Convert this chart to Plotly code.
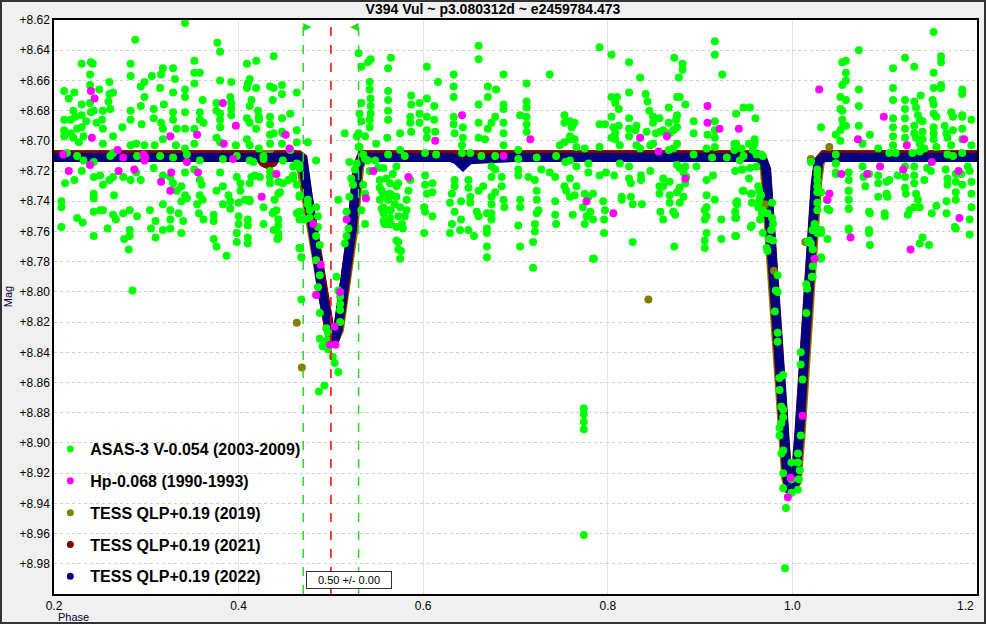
import plotly.graph_objects as go

TITLE = "V394 Vul ~ p3.080312d ~ e2459784.473"
SERIES_NAMES = ["ASAS-3 V-0.054 (2003-2009)", "Hp-0.068 (1990-1993)",
                "TESS QLP+0.19 (2019)", "TESS QLP+0.19 (2021)", "TESS QLP+0.19 (2022)"]
SERIES_COLORS = ["#00ff00", "#ff00ff", "#808000", "#800000", "#000080"]
MARK_LINES = [0.47, 0.50, 0.53]
MARK_LABEL = "0.50 +/- 0.00"
X_TICKS = [0.2, 0.4, 0.6, 0.8, 1.0, 1.2]
X_TICK_TEXT = ["0.2", "0.4", "0.6", "0.8", "1.0", ""]
X_LAST_LABEL = "1.2"
Y_TICKS = [8.62, 8.64, 8.66, 8.68, 8.70, 8.72, 8.74, 8.76, 8.78, 8.80, 8.82, 8.84, 8.86,
           8.88, 8.90, 8.92, 8.94, 8.96, 8.98]
Y_TICK_TEXT = ["+8.62", "+8.64", "+8.66", "+8.68", "+8.70", "+8.72", "+8.74", "+8.76", "+8.78",
               "+8.80", "+8.82", "+8.84", "+8.86", "+8.88", "+8.90", "+8.92", "+8.94", "+8.96",
               "+8.98"]

# ---- ASAS-3 V (green) : (phase, mag)
ASAS_A = [
(0.342,8.622),(0.288,8.633),(0.377,8.635),(0.380,8.641),(0.230,8.649),(0.240,8.648),(0.242,8.649),(0.283,8.649),(0.352,8.647),(0.438,8.644),(0.419,8.647),(0.409,8.649),(0.239,8.656),(0.283,8.657),(0.318,8.652),(0.329,8.652),(0.352,8.655),(0.358,8.655),(0.306,8.657),(0.316,8.656),(0.331,8.659),(0.260,8.661),(0.298,8.661),(0.294,8.664),(0.352,8.662),(0.380,8.660),(0.392,8.661),(0.412,8.659),(0.410,8.662),
(0.211,8.667),(0.222,8.668),(0.216,8.672),(0.249,8.666),(0.260,8.669),(0.264,8.668),(0.315,8.665),(0.329,8.668),(0.342,8.666),(0.342,8.671),(0.361,8.673),(0.376,8.675),(0.391,8.671),(0.392,8.675),(0.409,8.665),(0.419,8.665),(0.434,8.664),(0.438,8.665),(0.447,8.663),(0.447,8.669),(0.463,8.668),(0.414,8.673),(0.437,8.673),(0.239,8.663),(0.239,8.675),(0.230,8.676),(0.221,8.680),(0.218,8.686),(0.223,8.684),(0.211,8.686),(0.230,8.683),(0.240,8.681),(0.243,8.680),(0.253,8.680),(0.259,8.674),(0.261,8.679),(0.283,8.680),(0.294,8.677),(0.298,8.671),(0.308,8.679),(0.319,8.676),(0.329,8.681),(0.342,8.681),(0.358,8.681),(0.376,8.680),(0.380,8.682),(0.392,8.679),(0.412,8.677),(0.421,8.680),(0.422,8.684),(0.447,8.685),(0.456,8.682),(0.434,8.684),
(0.211,8.693),(0.218,8.695),(0.225,8.692),(0.230,8.691),(0.235,8.687),(0.246,8.688),(0.252,8.686),(0.253,8.692),(0.264,8.697),(0.274,8.691),(0.283,8.686),(0.295,8.689),(0.308,8.685),(0.316,8.688),(0.318,8.692),(0.329,8.686),(0.333,8.692),(0.342,8.692),(0.352,8.692),(0.358,8.686),(0.362,8.688),(0.380,8.686),(0.380,8.691),(0.392,8.683),(0.409,8.685),(0.412,8.688),(0.419,8.692),(0.422,8.686),(0.434,8.689),(0.438,8.695),(0.447,8.694),(0.463,8.693),
(0.211,8.697),(0.221,8.698),(0.227,8.701),(0.232,8.697),(0.253,8.702),(0.283,8.703),(0.289,8.702),(0.298,8.703),(0.309,8.703),(0.318,8.699),(0.332,8.703),(0.342,8.705),(0.352,8.702),(0.376,8.698),(0.380,8.701),(0.397,8.703),(0.409,8.699),(0.412,8.703),(0.422,8.705),(0.434,8.702),(0.447,8.702),(0.463,8.701),(0.456,8.706),
(0.214,8.708),(0.225,8.710),(0.232,8.713),(0.243,8.714),(0.261,8.710),(0.264,8.708),(0.290,8.710),(0.315,8.710),(0.329,8.711),(0.344,8.709),(0.358,8.713),(0.383,8.712),(0.398,8.710),(0.412,8.713),(0.427,8.712),(0.448,8.713),(0.463,8.715),(0.466,8.718),
(0.212,8.728),(0.222,8.726),(0.230,8.720),(0.243,8.724),(0.250,8.723),(0.253,8.729),(0.260,8.726),(0.264,8.724),(0.243,8.735),(0.243,8.738),(0.265,8.736),(0.275,8.724),(0.283,8.726),(0.289,8.721),(0.294,8.726),(0.308,8.718),(0.318,8.723),(0.326,8.724),(0.329,8.728),(0.333,8.733),(0.338,8.730),(0.342,8.736),(0.344,8.738),(0.342,8.721),(0.352,8.719),(0.358,8.726),(0.360,8.729),(0.358,8.736),(0.361,8.739),(0.376,8.733),(0.380,8.721),(0.383,8.730),(0.389,8.736),(0.391,8.740),(0.398,8.724),(0.402,8.728),(0.402,8.733),(0.407,8.739),(0.412,8.740),(0.418,8.723),(0.423,8.724),(0.434,8.720),(0.434,8.728),(0.443,8.727),(0.443,8.735),(0.459,8.724),(0.463,8.729),(0.466,8.736),
(0.208,8.740),(0.208,8.744),(0.225,8.751),(0.231,8.754),(0.243,8.747),(0.250,8.746),(0.253,8.746),(0.258,8.758),(0.264,8.749),(0.267,8.752),(0.275,8.748),(0.282,8.746),(0.290,8.750),(0.282,8.759),(0.276,8.765),(0.282,8.763),(0.304,8.746),(0.305,8.758),(0.310,8.753),(0.310,8.764),(0.318,8.742),(0.318,8.759),(0.326,8.746),(0.326,8.752),(0.326,8.758),(0.335,8.748),(0.338,8.740),(0.340,8.753),(0.338,8.761),(0.355,8.742),(0.357,8.748),(0.362,8.752),(0.373,8.749),(0.373,8.753),(0.373,8.765),(0.376,8.770),(0.383,8.742),(0.391,8.745),(0.387,8.776),(0.400,8.741),(0.400,8.750),(0.400,8.755),(0.398,8.761),(0.398,8.767),(0.410,8.752),(0.410,8.756),(0.410,8.764),(0.410,8.768),(0.427,8.744),(0.427,8.755),(0.438,8.747),(0.438,8.759),(0.443,8.756),(0.443,8.764),(0.443,8.761),(0.466,8.747),(0.466,8.752),(0.208,8.757),(0.243,8.763),(0.281,8.772),(0.285,8.799),(0.466,8.771),(0.468,8.777),
]

ASAS_B = [  # secondary eclipse region
(0.434,8.696),(0.448,8.695),(0.475,8.701),(0.515,8.695),(0.528,8.697),(0.531,8.704),(0.520,8.714),(0.466,8.716),(0.484,8.713),(0.459,8.723),(0.459,8.725),(0.466,8.737),(0.475,8.739),(0.477,8.746),(0.484,8.744),(0.486,8.750),(0.486,8.757),(0.484,8.763),(0.488,8.769),(0.484,8.779),(0.488,8.789),(0.486,8.797),(0.475,8.742),(0.477,8.751),(0.472,8.752),(0.466,8.771),(0.468,8.777),(0.468,8.805),(0.488,8.814),(0.495,8.824),(0.497,8.827),(0.496,8.832),(0.488,8.831),(0.491,8.836),(0.497,8.838),(0.502,8.843),(0.504,8.847),(0.508,8.853),(0.506,8.790),(0.508,8.799),(0.510,8.803),(0.510,8.808),(0.510,8.812),(0.510,8.820),(0.515,8.768),(0.517,8.763),(0.519,8.758),(0.517,8.747),(0.520,8.737),(0.524,8.729),(0.522,8.725),(0.526,8.719),(0.528,8.715),(0.535,8.709),(0.540,8.713),(0.508,8.739),(0.537,8.735),(0.533,8.746),(0.537,8.755),(0.535,8.729),(0.542,8.720),(0.439,8.739),(0.441,8.746),(0.437,8.748),(0.443,8.752),(0.439,8.759),(0.442,8.765),(0.412,8.728),(0.412,8.739),(0.445,8.734),(0.434,8.724),(0.448,8.728),(0.454,8.726),(0.459,8.717),(0.463,8.748),(0.414,8.724),(0.427,8.710),(0.416,8.714),(0.549,8.702),(0.557,8.718),(0.560,8.725),(0.564,8.728),(0.567,8.722),(0.571,8.717),(0.553,8.731),(0.557,8.735),(0.566,8.736),(0.557,8.744),(0.564,8.746),(0.564,8.751),(0.557,8.753),(0.557,8.748),(0.562,8.755),(0.571,8.757),(0.573,8.772),(0.571,8.766),(0.487,8.866),(0.493,8.862),
]

ASAS_C = [  # 0.53 - 0.76
(0.530,8.642),(0.533,8.651),(0.540,8.648),(0.543,8.646),(0.542,8.661),(0.542,8.666),(0.543,8.672),(0.543,8.677),(0.543,8.682),(0.542,8.686),(0.542,8.691),(0.533,8.675),(0.531,8.682),(0.533,8.687),(0.530,8.695),(0.537,8.697),(0.530,8.704),(0.562,8.652),(0.565,8.645),(0.562,8.667),(0.562,8.673),(0.562,8.680),(0.562,8.686),(0.561,8.698),(0.575,8.695),(0.586,8.684),(0.587,8.670),(0.587,8.676),(0.586,8.688),(0.587,8.694),(0.596,8.675),(0.596,8.682),(0.596,8.688),(0.604,8.651),(0.604,8.672),(0.604,8.684),(0.604,8.693),(0.604,8.698),(0.612,8.677),(0.612,8.686),(0.613,8.694),(0.616,8.661),(0.633,8.656),(0.633,8.664),(0.633,8.671),(0.633,8.684),(0.633,8.689),(0.634,8.695),(0.643,8.691),(0.643,8.698),(0.642,8.703),(0.660,8.637),(0.660,8.646),(0.660,8.676),(0.660,8.688),(0.660,8.698),(0.667,8.699),(0.670,8.664),(0.670,8.671),(0.670,8.692),(0.674,8.688),(0.679,8.666),(0.678,8.684),(0.687,8.656),(0.687,8.676),(0.687,8.679),(0.687,8.688),(0.687,8.695),(0.687,8.703),(0.705,8.683),(0.712,8.662),(0.712,8.674),(0.712,8.678),(0.712,8.684),(0.712,8.689),(0.712,8.694),(0.703,8.706),(0.737,8.656),(0.753,8.683),(0.753,8.688),(0.761,8.691),(0.753,8.701),(0.748,8.703),(0.759,8.699),
(0.537,8.712),(0.548,8.713),(0.562,8.709),(0.575,8.706),(0.580,8.710),(0.602,8.708),(0.614,8.709),(0.642,8.708),(0.651,8.708),(0.663,8.710),(0.678,8.710),(0.703,8.712),(0.723,8.711),(0.744,8.710),(0.754,8.714),
(0.551,8.718),(0.553,8.726),(0.555,8.733),(0.553,8.739),(0.555,8.745),(0.558,8.755),(0.562,8.739),(0.564,8.735),(0.565,8.746),(0.565,8.755),(0.569,8.742),(0.571,8.730),(0.571,8.737),(0.573,8.728),(0.573,8.750),(0.575,8.744),(0.577,8.755),(0.578,8.758),(0.580,8.750),(0.582,8.746),(0.582,8.739),(0.584,8.733),(0.586,8.726),(0.573,8.767),(0.576,8.773),(0.575,8.778),(0.602,8.723),(0.602,8.729),(0.604,8.735),(0.610,8.728),(0.610,8.734),(0.601,8.744),(0.602,8.747),(0.610,8.750),(0.601,8.761),(0.631,8.735),(0.629,8.741),(0.634,8.726),(0.634,8.730),(0.634,8.747),(0.631,8.755),(0.629,8.761),(0.641,8.752),(0.640,8.759),(0.641,8.740),(0.649,8.726),(0.649,8.731),(0.651,8.737),(0.651,8.741),(0.649,8.759),(0.655,8.763),(0.658,8.747),(0.660,8.750),(0.660,8.733),(0.665,8.730),(0.669,8.748),(0.669,8.758),(0.669,8.761),(0.669,8.770),(0.669,8.777),(0.674,8.724),(0.674,8.717),(0.674,8.737),(0.674,8.742),(0.674,8.748),(0.674,8.752),(0.678,8.719),(0.678,8.734),(0.685,8.724),(0.685,8.730),(0.687,8.739),(0.688,8.744),(0.703,8.719),(0.703,8.723),(0.705,8.739),(0.705,8.744),(0.703,8.756),(0.705,8.770),(0.714,8.724),(0.721,8.726),(0.723,8.733),(0.723,8.739),(0.725,8.746),(0.723,8.748),(0.721,8.755),(0.721,8.760),(0.719,8.767),(0.719,8.784),(0.728,8.719),(0.737,8.721),(0.743,8.724),(0.743,8.740),(0.743,8.749),(0.744,8.755),(0.753,8.730),(0.755,8.733),
]

ASAS_D = [  # 0.76 - 0.97
(0.791,8.638),(0.804,8.643),(0.823,8.648),(0.835,8.658),(0.872,8.645),(0.881,8.649),(0.881,8.653),(0.877,8.658),(0.916,8.634),(0.916,8.643),(0.924,8.656),(0.804,8.671),(0.810,8.671),(0.808,8.675),(0.812,8.679),(0.823,8.668),(0.841,8.669),(0.843,8.674),(0.845,8.680),(0.849,8.684),(0.856,8.685),(0.866,8.678),(0.875,8.671),(0.878,8.671),(0.884,8.676),(0.875,8.683),(0.874,8.686),(0.875,8.691),(0.871,8.693),(0.867,8.695),(0.764,8.688),(0.759,8.687),(0.791,8.689),(0.797,8.689),(0.804,8.684),(0.806,8.691),(0.812,8.690),(0.808,8.695),(0.823,8.685),(0.823,8.692),(0.823,8.697),(0.831,8.690),(0.830,8.693),(0.842,8.694),(0.849,8.688),(0.852,8.695),(0.857,8.694),(0.860,8.693),(0.866,8.688),(0.893,8.687),(0.893,8.695),(0.908,8.696),(0.916,8.687),(0.916,8.693),(0.916,8.698),(0.916,8.704),(0.939,8.682),(0.947,8.678),(0.954,8.678),(0.960,8.685),(0.959,8.699),(0.939,8.702),(0.939,8.704),(0.945,8.705),(0.766,8.704),(0.775,8.705),(0.759,8.697),(0.764,8.699),(0.791,8.704),(0.804,8.698),(0.808,8.699),(0.813,8.703),(0.831,8.703),(0.835,8.705),(0.846,8.703),(0.849,8.702),(0.866,8.706),(0.871,8.705),(0.875,8.702),(0.893,8.709),(0.907,8.705),(0.913,8.711),(0.929,8.711),(0.947,8.710),(0.958,8.703),(0.961,8.709),
(0.759,8.713),(0.766,8.717),(0.779,8.715),(0.779,8.721),(0.791,8.723),(0.798,8.721),(0.807,8.723),(0.813,8.715),(0.823,8.717),(0.823,8.725),(0.825,8.728),(0.836,8.723),(0.836,8.726),(0.846,8.720),(0.860,8.725),(0.867,8.727),(0.875,8.716),(0.878,8.718),(0.882,8.721),(0.884,8.717),(0.885,8.724),(0.884,8.728),(0.878,8.731),(0.875,8.734),(0.867,8.736),(0.860,8.730),(0.856,8.730),(0.856,8.735),(0.867,8.741),(0.878,8.741),(0.882,8.737),(0.871,8.747),(0.873,8.749),(0.857,8.747),(0.860,8.752),(0.896,8.717),(0.907,8.726),(0.914,8.723),(0.916,8.739),(0.907,8.736),(0.907,8.744),(0.905,8.746),(0.907,8.750),(0.905,8.752),(0.907,8.761),(0.905,8.766),(0.905,8.771),(0.923,8.752),(0.923,8.765),(0.938,8.720),(0.940,8.740),(0.940,8.742),(0.938,8.747),(0.938,8.751),(0.939,8.763),(0.945,8.719),(0.947,8.733),(0.954,8.718),(0.956,8.735),(0.956,8.741),(0.961,8.717),(0.963,8.730),(0.965,8.737),(0.963,8.744),(0.967,8.748),(0.965,8.752),(0.956,8.756),(0.759,8.725),(0.766,8.730),(0.759,8.737),(0.764,8.736),(0.762,8.749),(0.775,8.735),(0.779,8.737),(0.784,8.735),(0.773,8.744),(0.777,8.750),(0.784,8.752),(0.781,8.747),(0.775,8.755),(0.795,8.740),(0.797,8.746),(0.796,8.752),(0.796,8.761),(0.815,8.737),(0.815,8.739),(0.825,8.737),(0.827,8.742),(0.837,8.742),(0.827,8.767),(0.872,8.770),(0.784,8.778),(0.785,8.778),(0.774,8.877),(0.774,8.881),(0.774,8.886),(0.774,8.891),(0.774,8.961),
]

ASAS_E = [  # primary eclipse region
(0.937,8.702),(0.937,8.706),(0.953,8.702),(0.959,8.702),(0.957,8.706),(0.943,8.713),(0.946,8.719),(0.953,8.725),(0.966,8.709),(0.968,8.710),(0.946,8.733),(0.955,8.735),(0.939,8.741),(0.939,8.751),(0.955,8.757),(0.938,8.763),(0.964,8.733),(0.966,8.736),(0.964,8.740),(0.968,8.746),(0.978,8.741),(0.973,8.748),(0.978,8.751),(0.979,8.755),(0.977,8.759),(0.968,8.761),(0.975,8.765),(0.979,8.766),(0.972,8.771),(0.973,8.773),(0.984,8.789),(0.982,8.799),(0.984,8.800),(0.981,8.813),(0.984,8.827),(0.984,8.833),(0.990,8.855),(0.986,8.857),(0.986,8.865),(0.988,8.876),(0.990,8.878),(0.990,8.883),(0.988,8.887),(0.986,8.890),(0.986,8.895),(0.990,8.905),(0.988,8.907),(0.990,8.920),(0.990,8.930),(0.993,8.943),(0.999,8.913),(0.999,8.924),(0.999,8.933),(1.006,8.907),(1.006,8.913),(1.007,8.924),(1.008,8.918),(1.006,8.931),(1.009,8.895),(1.011,8.858),(1.009,8.848),(1.009,8.840),(1.015,8.814),(1.015,8.795),(1.016,8.798),(1.021,8.790),(1.022,8.783),(1.020,8.768),(1.017,8.767),(1.022,8.759),(1.024,8.755),(1.027,8.761),(1.031,8.759),(1.031,8.778),(1.027,8.746),(1.027,8.741),(1.027,8.734),(1.027,8.726),(1.027,8.719),(1.020,8.714),(1.040,8.746),(1.037,8.739),(1.040,8.735),(1.047,8.709),(1.047,8.715),(1.047,8.721),(1.061,8.726),(1.061,8.733),(1.061,8.739),(1.061,8.745),(1.061,8.758),(0.992,8.983),
]

ASAS_F = [  # 1.02 - 1.20
(1.153,8.628),(1.072,8.640),(1.054,8.648),(1.058,8.647),(1.122,8.645),(1.132,8.651),(1.161,8.644),(1.161,8.648),(1.109,8.652),(1.153,8.655),(1.058,8.655),(1.054,8.663),(1.058,8.660),(1.072,8.666),(1.109,8.665),(1.161,8.663),(1.161,8.665),(1.184,8.666),(1.184,8.669),(1.153,8.665),(1.152,8.673),(1.139,8.670),(1.132,8.674),(1.122,8.673),(1.109,8.673),(1.052,8.671),(1.058,8.673),(1.052,8.679),(1.054,8.680),(1.072,8.677),(1.122,8.679),(1.134,8.678),(1.136,8.683),(1.138,8.686),(1.141,8.687),(1.153,8.676),(1.153,8.682),(1.156,8.684),(1.172,8.681),(1.174,8.684),(1.184,8.683),(1.184,8.684),(1.194,8.686),(1.054,8.686),(1.055,8.690),(1.058,8.690),(1.052,8.693),(1.031,8.691),(1.047,8.696),(1.052,8.700),(1.072,8.690),(1.084,8.696),(1.076,8.702),(1.093,8.705),(1.109,8.685),(1.109,8.691),(1.109,8.697),(1.109,8.703),(1.122,8.685),(1.122,8.692),(1.122,8.698),(1.132,8.690),(1.132,8.695),(1.134,8.698),(1.138,8.702),(1.141,8.694),(1.141,8.699),(1.143,8.705),(1.153,8.691),(1.153,8.695),(1.153,8.699),(1.156,8.704),(1.165,8.690),(1.167,8.695),(1.168,8.698),(1.174,8.693),(1.172,8.703),(1.184,8.692),(1.184,8.699),(1.194,8.703),
(1.105,8.708),(1.112,8.708),(1.130,8.708),(1.138,8.707),(1.168,8.709),(1.174,8.710),(1.184,8.708),
(1.047,8.715),(1.047,8.722),(1.061,8.721),(1.076,8.717),(1.077,8.724),(1.083,8.722),(1.093,8.723),(1.093,8.728),(1.105,8.726),(1.102,8.727),(1.114,8.723),(1.122,8.717),(1.122,8.724),(1.122,8.731),(1.123,8.735),(1.132,8.717),(1.132,8.723),(1.132,8.728),(1.134,8.735),(1.136,8.739),(1.138,8.744),(1.143,8.726),(1.146,8.718),(1.150,8.720),(1.151,8.748),(1.156,8.743),(1.166,8.719),(1.168,8.725),(1.168,8.729),(1.167,8.740),(1.167,8.748),(1.177,8.722),(1.177,8.727),(1.177,8.734),(1.177,8.739),(1.183,8.722),(1.184,8.729),(1.190,8.717),(1.192,8.720),(1.194,8.727),(1.194,8.735),(1.194,8.744),(1.192,8.752),(1.192,8.762),(1.027,8.730),(1.027,8.722),(1.031,8.734),(1.038,8.745),(1.038,8.739),(1.061,8.733),(1.061,8.739),(1.061,8.745),(1.061,8.759),(1.079,8.730),(1.084,8.748),(1.083,8.747),(1.083,8.759),(1.083,8.761),(1.084,8.769),(1.093,8.737),(1.100,8.748),(1.100,8.750),(1.102,8.735),(1.103,8.737),(1.127,8.746),(1.125,8.749),(1.132,8.744),(1.141,8.764),(1.138,8.768),(1.148,8.769),(1.176,8.757),(1.177,8.758),(1.031,8.761),(1.038,8.765),(1.031,8.777),(1.026,8.759),(1.022,8.759),(1.018,8.766),(1.022,8.772),(1.022,8.790),
]

# ---- Hipparcos Hp (magenta)
HP_POINTS = [
(0.210,8.709),(0.240,8.667),(0.244,8.672),(0.241,8.698),(0.216,8.720),(0.239,8.716),(0.269,8.706),(0.275,8.711),(0.270,8.720),(0.287,8.719),(0.297,8.709),(0.299,8.711),(0.298,8.713),(0.326,8.697),(0.316,8.727),(0.326,8.733),(0.327,8.721),(0.344,8.714),(0.355,8.696),(0.356,8.721),(0.383,8.675),(0.384,8.702),(0.397,8.690),(0.394,8.712),(0.425,8.737),(0.441,8.722),(0.451,8.696),(0.455,8.705),
(0.546,8.720),(0.538,8.738),(0.481,8.755),(0.517,8.752),(0.489,8.782),(0.484,8.802),(0.510,8.800),(0.504,8.823),(0.499,8.835),(0.505,8.835),
(0.642,8.683),(0.613,8.700),(0.584,8.724),(0.687,8.710),(0.716,8.699),
(0.908,8.677),(0.908,8.688),(0.921,8.692),(0.942,8.692),(0.835,8.698),(0.864,8.697),(0.855,8.707),(0.884,8.725),(0.777,8.740),(0.806,8.748),
(1.011,8.882),(0.998,8.923),(0.995,8.936),
(1.029,8.666),(1.071,8.699),(1.099,8.684),(1.124,8.703),(1.186,8.699),(1.151,8.714),(1.095,8.717),(1.120,8.719),(1.180,8.720),(1.053,8.722),(1.081,8.722),(1.040,8.735),(1.038,8.739),(1.181,8.751),(1.063,8.764),(1.128,8.772),(1.024,8.778),
]

# ---- TESS 2022 (navy) phased light curve
TESS22_PHASE = [0.200, 0.300, 0.400, 0.465, 0.4696, 0.4750, 0.4804, 0.4858, 0.4912, 0.4977, 0.5020,
                0.5074, 0.5129, 0.5183, 0.5226, 0.5258, 0.5291, 0.5334, 0.545, 0.630, 0.636, 0.643,
                0.650, 0.700, 0.800, 0.900, 0.962, 0.9675, 0.9719, 0.9740, 0.9773, 0.9805, 0.9838,
                0.9881, 0.9913, 0.9946, 0.9978, 1.0032, 1.0076, 1.0108, 1.0141, 1.0184, 1.0216,
                1.0249, 1.0281, 1.0336, 1.100, 1.200]
TESS22_MAG = [8.711, 8.711, 8.711, 8.711, 8.7125, 8.7371, 8.7590, 8.7808, 8.8033, 8.8218, 8.8351,
              8.8252, 8.8033, 8.7808, 8.7590, 8.7371, 8.7173, 8.7110, 8.711, 8.711, 8.7125, 8.7165,
              8.7125, 8.711, 8.711, 8.711, 8.711, 8.7125, 8.7193, 8.7391, 8.7722, 8.8053, 8.8384,
              8.8715, 8.9046, 8.9231, 8.9324, 8.9258, 8.8913, 8.8582, 8.8252, 8.7921, 8.7590,
              8.7292, 8.7140, 8.7110, 8.711, 8.711]

# ---- TESS 2021 (maroon)
TESS21_PHASE = [0.200, 0.300, 0.421, 0.427, 0.432, 0.437, 0.442, 0.465, 0.4693, 0.4748, 0.4802,
                0.4856, 0.4910, 0.4975, 0.5018, 0.5076, 0.5131, 0.5185, 0.5228, 0.5260, 0.5293,
                0.5338, 0.600, 0.800, 0.962, 0.9672, 0.9716, 0.9738, 0.9771, 0.9803, 0.9836,
                0.9879, 0.9911, 0.9944, 0.9976, 1.0034, 1.0078, 1.0110, 1.0143, 1.0186, 1.0218,
                1.0251, 1.0283, 1.0340, 1.200]
TESS21_MAG = [8.7095, 8.7095, 8.7095, 8.714, 8.7155, 8.714, 8.7095, 8.7095, 8.7115, 8.7365, 8.7585,
              8.7805, 8.8030, 8.8215, 8.8350, 8.8250, 8.8030, 8.7805, 8.7585, 8.7365, 8.7165,
              8.7095, 8.7095, 8.7095, 8.7095, 8.7115, 8.7190, 8.7385, 8.7718, 8.8050, 8.8380,
              8.8712, 8.9043, 8.9228, 8.9320, 8.9255, 8.8910, 8.8580, 8.8250, 8.7918, 8.7588,
              8.7290, 8.7135, 8.7095, 8.7095]

# ---- TESS 2019 (olive)
TESS19_PHASE = [0.200, 0.460, 0.4665, 0.4735, 0.4790, 0.4845, 0.4900, 0.4965, 0.5010, 0.5085,
                0.5140, 0.5195, 0.5240, 0.5272, 0.5305, 0.5350, 0.800, 0.960, 0.9660, 0.9705,
                0.9728, 0.9760, 0.9793, 0.9826, 0.9868, 0.9900, 0.9935, 0.9970, 1.0045, 1.0090,
                1.0122, 1.0155, 1.0198, 1.0230, 1.0263, 1.0296, 1.0350, 1.200]
TESS19_MAG = [8.7095, 8.7095, 8.7115, 8.7370, 8.7590, 8.7808, 8.8033, 8.8218, 8.8350, 8.8250,
              8.8030, 8.7805, 8.7588, 8.7368, 8.7170, 8.7095, 8.7095, 8.7095, 8.7115, 8.7195,
              8.7390, 8.7720, 8.8050, 8.8380, 8.8712, 8.9043, 8.9228, 8.9320, 8.9255, 8.8910,
              8.8580, 8.8250, 8.7918, 8.7588, 8.7290, 8.7135, 8.7095, 8.7095]
TESS19_OUTLIERS = [(0.463, 8.8205), (0.4685, 8.850), (0.844, 8.805), (1.014, 8.767),
                   (1.020, 8.712), (1.040, 8.704), (0.9705, 8.742), (0.9800, 8.786)]

ASAS_ALL = ASAS_A + ASAS_B + ASAS_C + ASAS_D + ASAS_E + ASAS_F


def xs(pts):
    return [p[0] for p in pts]


def ys(pts):
    return [p[1] for p in pts]


fig = go.Figure()

# TESS curves (drawn as dense bands)
fig.add_trace(go.Scatter(x=TESS19_PHASE, y=TESS19_MAG, mode="lines",
                         line=dict(color=SERIES_COLORS[2], width=10.5), showlegend=False, hoverinfo="skip"))
fig.add_trace(go.Scatter(x=TESS21_PHASE, y=TESS21_MAG, mode="lines",
                         line=dict(color=SERIES_COLORS[3], width=10), showlegend=False, hoverinfo="skip"))
fig.add_trace(go.Scatter(x=TESS22_PHASE, y=TESS22_MAG, mode="lines",
                         line=dict(color=SERIES_COLORS[4], width=9), showlegend=False, hoverinfo="skip"))
fig.add_trace(go.Scatter(x=xs(TESS19_OUTLIERS), y=ys(TESS19_OUTLIERS), mode="markers",
                         marker=dict(color=SERIES_COLORS[2], size=8), showlegend=False, hoverinfo="skip"))
# ASAS
fig.add_trace(go.Scatter(x=xs(ASAS_ALL), y=ys(ASAS_ALL), mode="markers",
                         marker=dict(color=SERIES_COLORS[0], size=8), showlegend=False))
# Hp
fig.add_trace(go.Scatter(x=xs(HP_POINTS), y=ys(HP_POINTS), mode="markers",
                         marker=dict(color=SERIES_COLORS[1], size=8), showlegend=False))

# legend entries
for i, (nm, col) in enumerate(zip(SERIES_NAMES, SERIES_COLORS)):
    fig.add_trace(go.Scatter(x=[None], y=[None], mode="markers", name=nm,
                             marker=dict(color=col, size=7), legendgroup=f"g{i}",
                             legendrank=i + 1))

# marker lines
line_cols = ["#22dd22", "#ff0000", "#22dd22"]
for xv, c in zip(MARK_LINES, line_cols):
    fig.add_shape(type="line", x0=xv, x1=xv, y0=0, y1=1, xref="x", yref="paper",
                  line=dict(color=c, width=1.5, dash="dash"), layer="above")
fig.add_annotation(x=MARK_LINES[0], y=1, xref="x", yref="paper", text="▶", showarrow=False,
                   xanchor="left", yanchor="top", xshift=-2, yshift=2,
                   font=dict(color="#22dd22", size=11))
fig.add_annotation(x=MARK_LINES[2], y=1, xref="x", yref="paper", text="◀", showarrow=False,
                   xanchor="right", yanchor="top", xshift=2, yshift=2,
                   font=dict(color="#22dd22", size=11))
fig.add_annotation(x=MARK_LINES[0], y=0.024, xref="x", yref="paper", text=MARK_LABEL,
                   showarrow=False, xanchor="left", yanchor="middle", xshift=3,
                   bgcolor="white", bordercolor="#333333", borderwidth=1, borderpad=2, width=80,
                   font=dict(family="Liberation Sans, Arial", size=11, color="#000"))

# last x tick label, kept inside the frame as in the reference
fig.add_annotation(x=X_TICKS[-1], y=0, xref="x", yref="paper", text=X_LAST_LABEL,
                   showarrow=False, xanchor="right", yanchor="top", xshift=-1, yshift=-3,
                   font=dict(family="Liberation Sans, Arial", size=12, color="#000"))

# axis titles
fig.add_annotation(x=0, y=-0.040, xref="paper", yref="paper", text="Phase", showarrow=False,
                   xanchor="left", yanchor="middle", xshift=2,
                   font=dict(family="Liberation Sans, Arial", size=11, color="#000033"))
fig.add_annotation(x=-0.0498, y=0.517, xref="paper", yref="paper", text="Mag", showarrow=False,
                   textangle=-90, xanchor="center", yanchor="middle",
                   font=dict(family="Liberation Sans, Arial", size=11, color="#000033"))

# outer border
fig.add_shape(type="rect", xref="paper", yref="paper", x0=-53/923, x1=1 + 8/923,
              y0=-29/574, y1=1 + 19/574, line=dict(color="#333333", width=2), layer="above")

fig.update_layout(
    width=986, height=624,
    margin=dict(l=54, r=9, t=20, b=30, autoexpand=False),
    paper_bgcolor="#f0f0f0", plot_bgcolor="white",
    title=dict(text=TITLE, x=0.5, xanchor="center", y=1 - 9/624, yanchor="middle",
               font=dict(family="Liberation Sans, Arial", size=14, color="#000", weight="bold")),
    font=dict(family="Liberation Sans, Arial", size=12, color="#000"),
    xaxis=dict(range=[0.2, 1.2], tickvals=X_TICKS, ticktext=X_TICK_TEXT, showgrid=True,
               gridcolor="#e4e4e4", gridwidth=1, zeroline=False, showline=True, mirror=True,
               linecolor="black", linewidth=1.5, ticks="", tickfont=dict(size=12),
               automargin=False),
    yaxis=dict(range=[9.0, 8.62], tickvals=Y_TICKS, ticktext=Y_TICK_TEXT, showgrid=True,
               gridcolor="#d0d0d0", griddash="dot", gridwidth=1, zeroline=False, showline=True,
               mirror=True, linecolor="black", linewidth=1.5, ticks="", tickfont=dict(size=12),
               automargin=False),
    legend=dict(x=-0.004, y=0.282, xanchor="left", yanchor="top", bgcolor="rgba(0,0,0,0)",
                font=dict(family="Liberation Sans, Arial", size=16, color="#000", weight="bold"),
                tracegroupgap=8, itemsizing="trace"),
    showlegend=True,
)

fig.write_html("out.html", config={"displayModeBar": False},
               post_script="document.body.style.margin='0';document.body.style.padding='0';")
